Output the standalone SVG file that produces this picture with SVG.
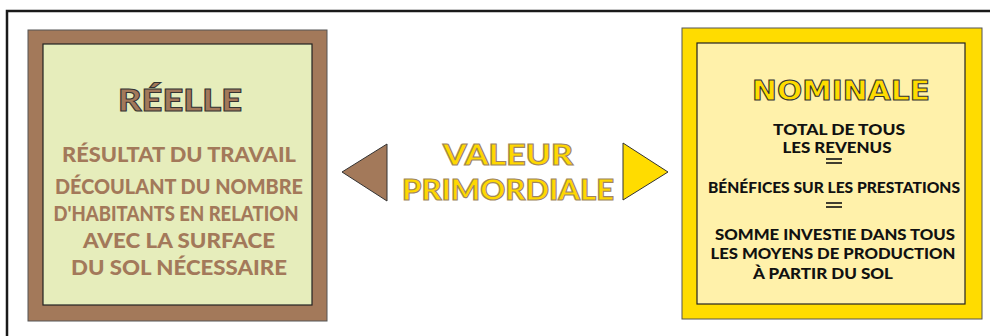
<svg xmlns="http://www.w3.org/2000/svg" width="990" height="336" viewBox="0 0 990 336">
<style>
.frame{fill:none;stroke:#1a1a1a;stroke-width:2.5}
.box-outer{stroke:#555;stroke-width:1}
.box-inner{stroke:#222;stroke-width:1.2}
.lt{font-family:Lato,"Open Sans","Liberation Sans",sans-serif;font-weight:900;font-size:20px;fill:#A3795A;text-anchor:middle}
.rt{font-family:Lato,"Open Sans","Liberation Sans",sans-serif;font-weight:900;font-size:15.5px;fill:#111;text-anchor:middle}
.title-l{font-family:Lato,"Open Sans","Liberation Sans",sans-serif;font-weight:900;font-size:31px;fill:#A3795A;stroke:#333;stroke-width:1;text-anchor:middle}
.title-r{font-family:"DejaVu Sans","Liberation Sans",sans-serif;font-weight:700;font-size:27px;fill:#FFDC00;stroke:#333;stroke-width:1;text-anchor:middle}
.mid{font-family:Lato,"Open Sans","Liberation Sans",sans-serif;font-weight:900;font-size:29px;fill:#FFD800;stroke:#A08560;stroke-width:1.1;text-anchor:middle}
.eq{stroke:#111;stroke-width:1.6}
</style>
<path class="frame" d="M7,336 V11 H990"/>
<g id="reelle">
<rect class="box-outer" x="28" y="30" width="299" height="291" fill="#A3795A"/>
<rect class="box-inner" x="43" y="44" width="269" height="261" fill="#E6EDBB"/>
<text class="title-l" x="180" y="111" textLength="124" lengthAdjust="spacingAndGlyphs">RÉELLE</text>
<text class="lt" x="179" y="162" textLength="234" lengthAdjust="spacingAndGlyphs">RÉSULTAT DU TRAVAIL</text>
<text class="lt" x="179" y="194" textLength="248" lengthAdjust="spacingAndGlyphs">DÉCOULANT DU NOMBRE</text>
<text class="lt" x="176" y="221" textLength="245" lengthAdjust="spacingAndGlyphs">D'HABITANTS EN RELATION</text>
<text class="lt" x="179" y="248" textLength="192" lengthAdjust="spacingAndGlyphs">AVEC LA SURFACE</text>
<text class="lt" x="179" y="275" textLength="216" lengthAdjust="spacingAndGlyphs">DU SOL NÉCESSAIRE</text>
</g>
<g id="valeur">
<text class="mid" x="508" y="165" textLength="130" lengthAdjust="spacingAndGlyphs">VALEUR</text>
<text class="mid" x="508" y="200" textLength="212" lengthAdjust="spacingAndGlyphs">PRIMORDIALE</text>
</g>
<g id="nominale">
<rect class="box-outer" x="682" y="28" width="300" height="291" fill="#FFDC00"/>
<rect class="box-inner" x="697" y="43" width="268" height="261" fill="#FFF1AA"/>
<text class="title-r" x="841" y="100" textLength="178" lengthAdjust="spacingAndGlyphs">NOMINALE</text>
<text class="rt" x="839" y="135" textLength="132" lengthAdjust="spacingAndGlyphs">TOTAL DE TOUS</text>
<text class="rt" x="837" y="153" textLength="109" lengthAdjust="spacingAndGlyphs">LES REVENUS</text>
<text class="rt" x="834" y="193" textLength="252" lengthAdjust="spacingAndGlyphs">BÉNÉFICES SUR LES PRESTATIONS</text>
<text class="rt" x="835" y="240" textLength="240" lengthAdjust="spacingAndGlyphs">SOMME INVESTIE DANS TOUS</text>
<text class="rt" x="833" y="259" textLength="245" lengthAdjust="spacingAndGlyphs">LES MOYENS DE PRODUCTION</text>
<text class="rt" x="823" y="279" textLength="140" lengthAdjust="spacingAndGlyphs">À PARTIR DU SOL</text>
<g class="eq">
<line x1="826" y1="159" x2="842" y2="159"/><line x1="826" y1="163" x2="842" y2="163"/>
<line x1="826" y1="203" x2="842" y2="203"/><line x1="826" y1="207" x2="842" y2="207"/>
</g>
</g>
<g id="connectors">
<polygon points="342,172 387,144 387,201" fill="#A3795A" stroke="#333" stroke-width="1"/>
<polygon points="623,143 668,172 623,200" fill="#FFDC00" stroke="#333" stroke-width="1"/>
</g>
</svg>
